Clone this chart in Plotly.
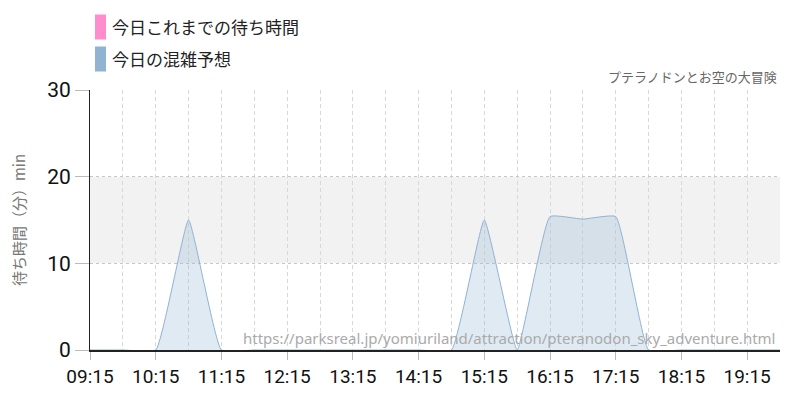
import plotly.graph_objects as go

# ---- data ----
times = ["09:15", "09:45", "10:15", "10:45", "11:15", "11:45", "12:15", "12:45",
         "13:15", "13:45", "14:15", "14:45", "15:15", "15:45", "16:15", "16:45",
         "17:15", "17:45", "18:15", "18:45", "19:15", "19:45"]
forecast = [0, 0, 0, 15, 0, 0, 0, 0, 0, 0, 0, 0, 15, 0, 15.4, 15.1, 15.4, 0, 0, 0, 0, 0]
actual_times = []
actual_wait = []
tick_labels = ["09:15", "10:15", "11:15", "12:15", "13:15", "14:15", "15:15",
               "16:15", "17:15", "18:15", "19:15"]
y_ticks = [0, 10, 20, 30]
band = [10, 20]

DAY = "2024-01-01 "
x = [DAY + t for t in times]
tickvals = [DAY + t for t in tick_labels]

NUM_FONT = "Roboto, sans-serif"
JP_FONT = "Noto Sans CJK JP, Noto Sans, sans-serif"

# plot area in screen pixels (page has 8px body margin)
PX0, PX1, PY0, PY1 = 90, 780, 90, 350
OFF = 8


def px(xs):
    return (xs - PX0) / (PX1 - PX0)


def py(ys):
    return (PY1 - ys) / (PY1 - PY0)


fig = go.Figure()
fig.add_trace(go.Scatter(
    x=[DAY + t for t in actual_times], y=actual_wait, mode="lines",
    line=dict(color="#ff88c8", width=2), showlegend=False, hoverinfo="skip"))
fig.add_trace(go.Scatter(
    x=x, y=forecast, mode="lines",
    line=dict(color="#8fb3d3", width=1, shape="spline", smoothing=0.35),
    fill="tozeroy", fillcolor="rgba(143,179,211,0.28)",
    showlegend=False))

fig.add_hrect(y0=band[0], y1=band[1], fillcolor="#f2f2f2", line_width=0, layer="below")

# custom legend
legend_items = [("今日これまでの待ち時間", "#ff8ccc", 27), ("今日の混雑予想", "#8fb3d1", 59)]
for name, col, yc in legend_items:
    fig.add_shape(type="rect", xref="paper", yref="paper",
                  x0=px(95), x1=px(106),
                  y0=py(yc + 12.5), y1=py(yc - 12.5),
                  fillcolor=col, line_width=0)
    fig.add_annotation(xref="paper", yref="paper", x=px(110),
                       y=py(yc), text=name, showarrow=False,
                       xanchor="left", yanchor="middle",
                       font=dict(family=JP_FONT, size=17, color="#222"))

fig.add_annotation(xref="paper", yref="paper", x=px(779), y=py(77),
                   text="プテラノドンとお空の大冒険", showarrow=False,
                   xanchor="right", yanchor="middle",
                   font=dict(family=JP_FONT, size=13, color="#666"))
fig.add_annotation(xref="paper", yref="paper", x=px(777), y=py(338),
                   text="https://parksreal.jp/yomiuriland/attraction/pteranodon_sky_adventure.html",
                   showarrow=False, xanchor="right", yanchor="middle",
                   font=dict(family="Noto Sans, DejaVu Sans, sans-serif", size=15, color="#aaa"))

fig.update_layout(
    width=800, height=400,
    margin=dict(l=PX0 - OFF, r=800 - (PX1 - OFF), t=PY0 - OFF, b=400 - (PY1 - OFF)),
    paper_bgcolor="white", plot_bgcolor="white",
    showlegend=False,
    xaxis=dict(
        type="date", range=[DAY + "09:15", DAY + "19:45"], automargin=False,
        tickvals=tickvals, ticktext=tick_labels,
        ticks="outside", ticklen=8, tickcolor="#bbb",
        showgrid=True, gridcolor="#d8d8d8", griddash="4px,3px", gridwidth=1,
        minor=dict(dtick=1800000, tick0=DAY + "09:15", showgrid=True,
                   gridcolor="#d8d8d8", griddash="4px,3px", ticks=""),
        showline=True, linecolor="#222", linewidth=1.5,
        tickfont=dict(family=NUM_FONT, size=19, color="#111"),
        zeroline=False, fixedrange=True,
    ),
    yaxis=dict(
        range=[0, 30], tickvals=y_ticks, automargin=False,
        ticks="outside", ticklen=14, tickcolor="#bbb",
        showgrid=True, gridcolor="#c8c8c8", griddash="dot",
        showline=True, linecolor="#222", linewidth=1,
        tickfont=dict(family=NUM_FONT, size=21, color="#111"),
        title=dict(text="待ち時間（分）min", font=dict(family=JP_FONT, size=15, color="#777"),
                   standoff=22),
        zeroline=False,
    ),
)

fig.write_html("out.html")
